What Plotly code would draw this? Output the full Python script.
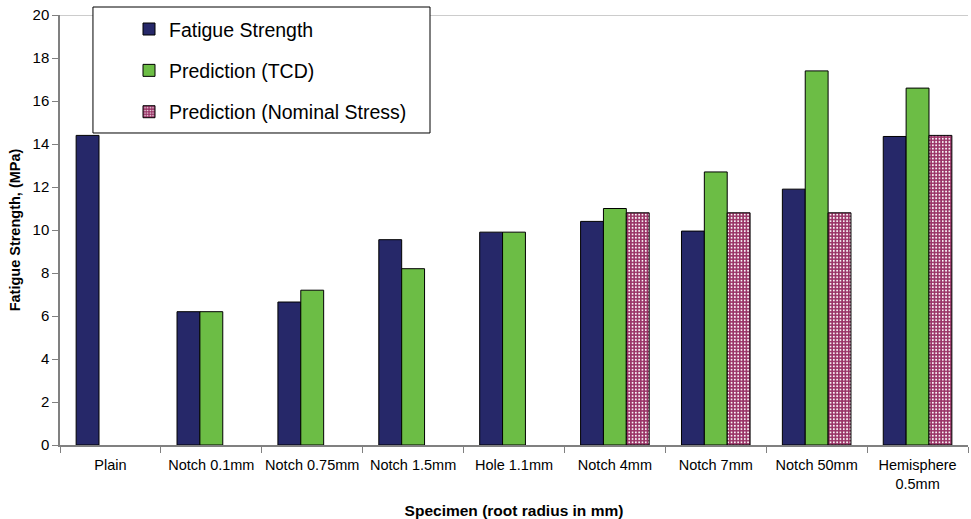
import plotly.graph_objects as go

categories = ["Plain", "Notch 0.1mm", "Notch 0.75mm", "Notch 1.5mm", "Hole 1.1mm",
              "Notch 4mm", "Notch 7mm", "Notch 50mm", "Hemisphere<br>0.5mm"]
fatigue_strength = [14.4, 6.2, 6.65, 9.55, 9.9, 10.4, 9.95, 11.9, 14.35]
prediction_tcd = [None, 6.2, 7.2, 8.2, 9.9, 11.0, 12.7, 17.4, 16.6]
prediction_nominal = [None, None, None, None, None, 10.8, 10.8, 10.8, 14.4]
y_ticks = [0, 2, 4, 6, 8, 10, 12, 14, 16, 18, 20]

fig = go.Figure()
fig.add_bar(x=categories, y=fatigue_strength, name="Fatigue Strength", legendgroup="a",
            marker=dict(color="#262869", line=dict(color="black", width=1)))
fig.add_bar(x=categories, y=prediction_tcd, name="Prediction (TCD)", legendgroup="b",
            marker=dict(color="#6CBD45", line=dict(color="black", width=1)))
fig.add_bar(x=categories, y=prediction_nominal, name="Prediction (Nominal Stress)", legendgroup="c",
            marker=dict(color="#993366", line=dict(color="black", width=1),
                        pattern=dict(shape=".", fgcolor="white", bgcolor="#993366",
                                     size=3.3, solidity=0.25, fillmode="replace")))

fig.update_layout(
    width=971, height=519,
    margin=dict(l=60, r=3, t=15, b=74),
    paper_bgcolor="white", plot_bgcolor="white",
    barmode="group", bargap=0.32, bargroupgap=0,
    font=dict(family="Arial, Liberation Sans, sans-serif", color="black"),
    showlegend=True,
    legend=dict(x=0.076, y=1.012, xanchor="left", yanchor="top",
                bgcolor="rgba(0,0,0,0)", borderwidth=0,
                font=dict(size=19.5), tracegroupgap=13),
    shapes=[
        dict(type="line", xref="paper", yref="y", x0=0, x1=1, y0=20, y1=20,
             line=dict(color="#9a9a9a", width=1), layer="below"),
        dict(type="rect", xref="paper", yref="paper", x0=0.0363, x1=0.4075,
             y0=0.7256, y1=1.0186, line=dict(color="black", width=1),
             fillcolor="white", layer="above"),
    ],
)
fig.update_xaxes(
    automargin=False, tickangle=0,
    showline=True, linecolor="#808080", linewidth=1.5,
    ticks="outside", tickson="boundaries", ticklen=6, tickcolor="#808080",
    tickfont=dict(size=14.5), ticklabelstandoff=6,
    title=dict(text="<b>Specimen (root radius in mm)</b>", font=dict(size=15.5), standoff=14),
    showgrid=False,
)
fig.update_yaxes(
    automargin=False,
    range=[0, 20], tickvals=y_ticks, showline=True, linecolor="#808080", linewidth=1.5,
    ticks="outside", ticklen=6, tickcolor="#808080", tickfont=dict(size=15),
    title=dict(text="<b>Fatigue Strength, (MPa)</b>", font=dict(size=14.5), standoff=8),
    showgrid=False, zeroline=False,
)

fig.write_html("out.html", config={"displayModeBar": False},
               post_script="document.body.style.margin='0';")
